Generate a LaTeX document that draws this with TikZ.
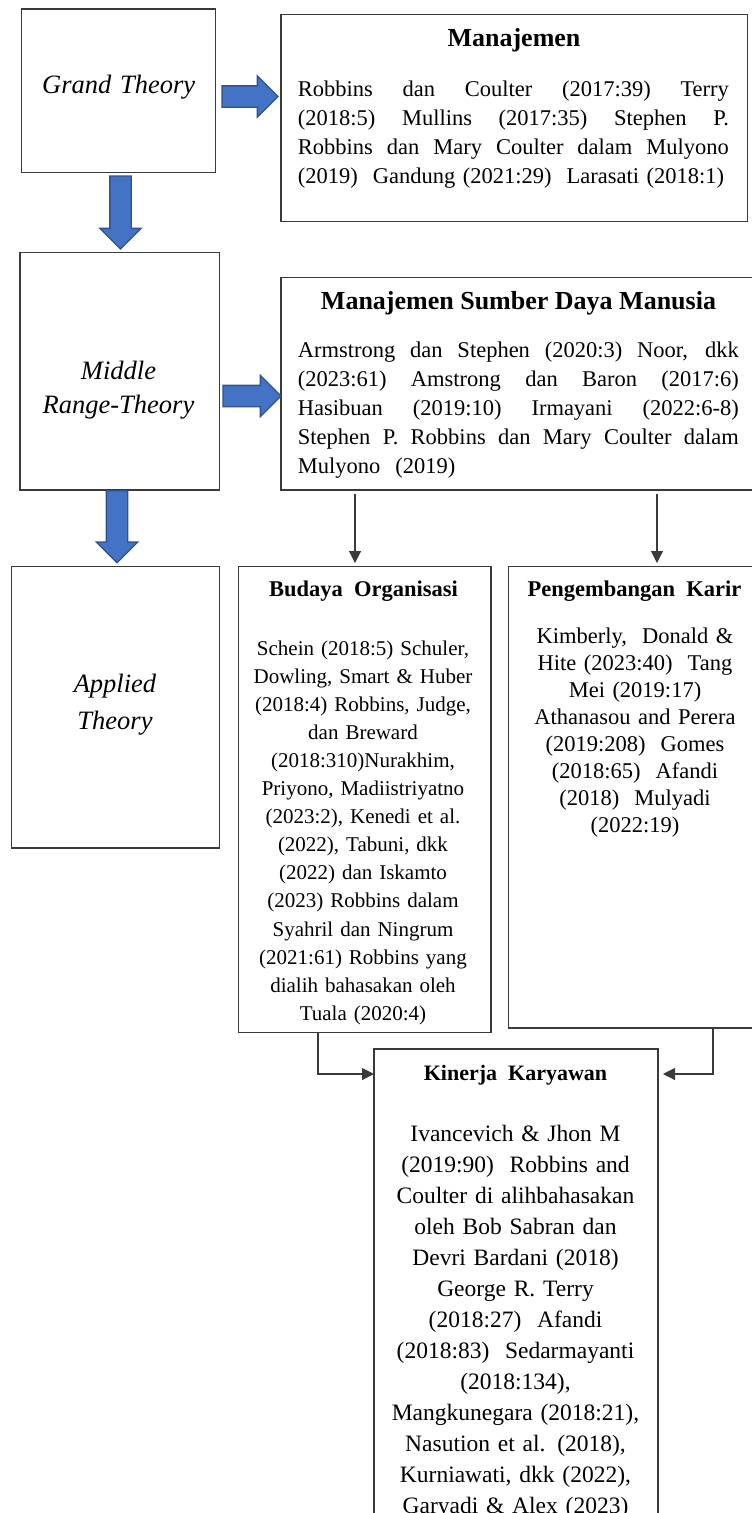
\documentclass[tikz,border=0pt]{standalone}
\usepackage{fontspec}
\setmainfont{Liberation Serif}
\usetikzlibrary{shapes.arrows,arrows.meta,calc}
\definecolor{panahbiru}{HTML}{4472C4}
\definecolor{tepibiru}{HTML}{2F528F}
\definecolor{garis}{HTML}{3A3A3A}

\newcommand{\jb}[1]{\makebox[431pt][s]{\spaceskip=0pt\xspaceskip=0pt #1}}
\newcommand{\jc}[1]{\makebox[441pt][s]{\spaceskip=0pt\xspaceskip=0pt #1}}

\begin{document}
\begin{tikzpicture}[x=1pt,y=-1pt,
  kotak/.style={draw=garis,line width=1.3pt,inner sep=0pt,outer sep=0pt,anchor=north west},
  teori/.style={font=\fontsize{26.5}{34}\selectfont\itshape,align=center,anchor=base,inner sep=0pt},
  judul/.style={font=\fontsize{26}{30}\selectfont\bfseries,anchor=base,inner sep=0pt},
  subjudul/.style={font=\fontsize{22.5}{27}\selectfont\bfseries,anchor=base,inner sep=0pt},
  isi/.style={align=left,anchor=base west,inner sep=0pt},
  tengah/.style={align=center,anchor=base,inner sep=0pt},
  panah/.style={single arrow,draw=tepibiru,fill=panahbiru,line width=1.3pt,inner xsep=0pt,inner ysep=10pt,
    single arrow head extend=10pt,single arrow tip angle=90,single arrow head indent=0pt,anchor=tail,outer sep=0pt},
  garispanah/.style={draw=garis,line width=1.1pt,-{Triangle[length=12pt,width=12pt]}}]
\useasboundingbox (0,0) rectangle (752,1513);
\clip (0,0) rectangle (752,1513);

% kotak teori
\node[kotak,minimum width=194pt,minimum height=163.7pt] (grand) at (21.7,9) {};
\node[kotak,minimum width=199.3pt,minimum height=237.3pt] (middle) at (20,252.7) {};
\node[kotak,minimum width=207.6pt,minimum height=281.3pt] (applied) at (11.7,566.7) {};
\node[teori,text width=190pt] (grandL) at (118.7,93) {Grand Theory};
\node[teori,text width=190pt] (middleL) at (118.5,379) {Middle\\Range-Theory};
\node[teori,text width=200pt,font=\fontsize{26.5}{37}\selectfont\itshape] (appliedL) at (115,692) {Applied\\Theory};

% kotak isi
\node[kotak,minimum width=466.7pt,minimum height=207pt] (mnj) at (281,14.5) {};
\node[kotak,minimum width=480pt,minimum height=212.7pt] (msdm) at (281,277.3) {};
\node[kotak,minimum width=252.7pt,minimum height=466pt] (budaya) at (238.3,566.5) {};
\node[kotak,minimum width=260pt,minimum height=461.5pt] (karir) at (508.7,566.5) {};
\node[kotak,minimum width=284pt,minimum height=500pt] (kinerja) at (374,1049) {};

\node[judul] (mnjT) at (514,46) {Manajemen};
\node[isi,text width=431pt,font=\fontsize{22.5}{29}\selectfont] (mnjB) at (297.7,96)
  {\jb{Robbins dan Coulter (2017:39) Terry}\\
   \jb{(2018:5) Mullins (2017:35) Stephen P.}\\
   \jb{Robbins dan Mary Coulter dalam Mulyono}\\
   (2019)\ \ Gandung (2021:29)\ \ Larasati (2018:1)};

\node[judul] (msdmT) at (518.5,309) {Manajemen Sumber Daya Manusia};
\node[isi,text width=441pt,font=\fontsize{22.5}{29}\selectfont] (msdmB) at (297.7,357)
  {\jc{Armstrong dan Stephen (2020:3) Noor, dkk}\\
   \jc{(2023:61) Amstrong dan Baron (2017:6)}\\
   \jc{Hasibuan (2019:10) Irmayani (2022:6-8)}\\
   \jc{Stephen P. Robbins dan Mary Coulter dalam}\\
   Mulyono\ \ (2019)};

\node[subjudul] (budayaT) at (363.5,596) {Budaya\ \ Organisasi};
\node[tengah,text width=250pt,font=\fontsize{21}{28.1}\selectfont] (budayaB) at (363,655)
  {Schein (2018:5) Schuler,\\ Dowling, Smart \& Huber\\ (2018:4) Robbins, Judge,\\ dan Breward\\
   (2018:310)Nurakhim,\\ Priyono, Madiistriyatno\\ (2023:2), Kenedi et al.\\ (2022), Tabuni, dkk\\
   (2022) dan Iskamto\\ (2023) Robbins dalam\\ Syahril dan Ningrum\\ (2021:61) Robbins yang\\
   dialih bahasakan oleh\\ Tuala (2020:4)};

\node[subjudul] (karirT) at (634.5,596) {Pengembangan\ \ Karir};
\node[tengah,text width=240pt,font=\fontsize{22.5}{27}\selectfont] (karirB) at (635,643.5)
  {Kimberly,\ \ Donald \&\\ Hite (2023:40)\ \ Tang\\ Mei (2019:17)\\ Athanasou and Perera\\
   (2019:208)\ \ Gomes\\ (2018:65)\ \ Afandi\\ (2018)\ \ Mulyadi\\ (2022:19)};

\node[subjudul,font=\fontsize{22}{26}\selectfont\bfseries] (kinerjaT) at (515.5,1080) {Kinerja\ \ Karyawan};
\node[tengah,text width=280pt,font=\fontsize{23.5}{31}\selectfont] (kinerjaB) at (515.5,1141)
  {Ivancevich \& Jhon M\\ (2019:90)\ \ Robbins and\\ Coulter di alihbahasakan\\ oleh Bob Sabran dan\\
   Devri Bardani (2018)\\ George R. Terry\\ (2018:27)\ \ Afandi\\ (2018:83)\ \ Sedarmayanti\\
   (2018:134),\\ Mangkunegara (2018:21),\\ Nasution et al. (2018),\\ Kurniawati, dkk (2022),\\
   Garyadi \& Alex (2023)};

% panah biru
\node[panah,minimum height=56pt] (pA) at (222,96.5) {};
\node[panah,minimum height=58pt] (pB) at (223,396) {};
\node[panah,minimum height=73pt,rotate=-90] (pC) at (120.5,176) {};
\node[panah,minimum height=72pt,rotate=-90] (pD) at (117,490.7) {};

% panah tipis
\coordinate (tA) at (355,0);
\coordinate (tB) at (657,0);
\coordinate (tC) at (318,1074);
\coordinate (tD) at (713,1074);
\draw[garispanah,shorten <=4pt,shorten >=3.5pt] (msdm.south -| tA) -- (budaya.north -| tA);
\draw[garispanah,shorten <=4pt,shorten >=3.5pt] (msdm.south -| tB) -- (karir.north -| tB);
\draw[garispanah] (budaya.south -| tC) |- (kinerja.west |- tC);
\draw[garispanah,shorten >=5pt] (karir.south -| tD) |- (kinerja.east |- tD);
\end{tikzpicture}
\end{document}
